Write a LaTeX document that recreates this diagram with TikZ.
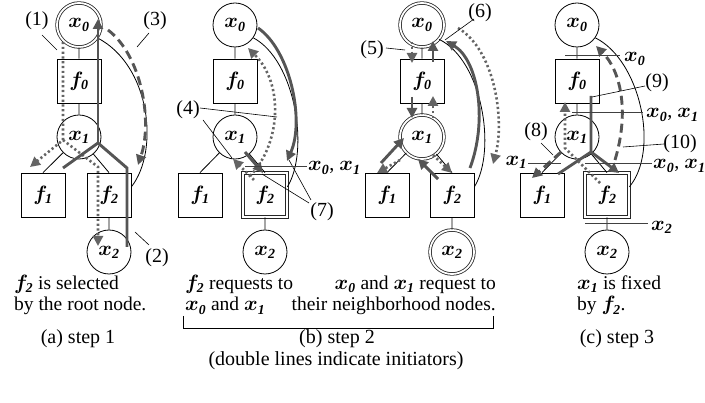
\documentclass[tikz,border=0pt]{standalone}
\usepackage{fontspec}
\setmainfont{Liberation Serif}
\usepackage{amsmath,bm}
\usetikzlibrary{arrows.meta,calc}
\definecolor{ag}{RGB}{85,85,85}
\definecolor{dg}{RGB}{100,100,100}
\newcommand{\vx}[1]{\ensuremath{\bm{x}_{\textbf{\textit{#1}}}}}
\newcommand{\vf}[1]{\ensuremath{\bm{f}_{\textbf{\textit{#1}}}}}
\begin{document}
\begin{tikzpicture}[x=1pt,y=-1pt,font=\fontsize{20}{21}\selectfont,
  var/.style={circle,draw,minimum size=44pt,inner sep=0pt,line width=0.8pt},
  fac/.style={rectangle,draw,minimum size=44pt,inner sep=0pt,line width=0.8pt},
  ini/.style={double=white,double distance=1.8pt,line width=0.8pt,draw=black!85},
  edge/.style={line width=0.8pt},
  tip/.style={-{Triangle[length=10pt,width=10pt]}},
  sol/.style={draw=ag,line width=2.9pt},
  dot/.style={draw=dg,line width=2.6pt,dash pattern=on 2.2pt off 2.6pt},
  dsh/.style={draw=ag,line width=2.9pt,dash pattern=on 9pt off 5pt},
  lead/.style={line width=0.6pt},
  cut/.style={line width=0.8pt,draw=black!75},
  txt/.style={inner sep=0pt},
  para/.style={inner sep=0pt,font=\fontsize{19.5}{21.5}\selectfont}]
\useasboundingbox (0,0) rectangle (705,403);
% ---------- panel (a)
\node[var,ini] (ax0) at (79,25) {\vx{0}};
\node[fac] (af0) at (79,81) {\vf{0}};
\node[var] (ax1) at (79,137) {\vx{1}};
\node[fac] (af1) at (43,195) {\vf{1}};
\node[fac] (af2) at (109,195) {\vf{2}};
\node[var] (ax2) at (109,252) {\vx{2}};
\draw[edge] (ax0) -- (af0) (af0) -- (ax1) (ax1) -- (af1.north) (ax1) -- (af2.north) (af2) -- (ax2);
\draw[edge] (ax0.-35) .. controls (150,65) and (160,150) .. (af2.20);
\draw[dot,tip] (63,42) -- (63,140) -- (30,167);
\draw[dot,tip] (63,140) -- (98,167) -- (98,246);
\draw[sol] (63,168) -- (98,143) -- (127,168) -- (127,247);
\draw[sol,tip] (98,143) -- (98,19);
\draw[dsh,tip] (108,30) .. controls (141,55) and (153,120) .. (138,165);
\node[txt] (al1) at (37,21) {(1)};
\draw[lead] (42,35) -- (57,50);
\node[txt] (al3) at (155,21) {(3)};
\draw[lead] (149,33) -- (137,47);
\node[txt] (al2) at (157,258) {(2)};
\draw[lead] (135,232) -- (149,245);
% ---------- panel (b)
\node[var] (bx0) at (235,25) {\vx{0}};
\node[fac] (bf0) at (235,81) {\vf{0}};
\node[var] (bx1) at (235,137) {\vx{1}};
\node[fac] (bf1) at (200,195) {\vf{1}};
\node[fac,ini] (bf2) at (265,195) {\vf{2}};
\node[var] (bx2) at (265,252) {\vx{2}};
\draw[edge] (bx0) -- (bf0) (bf0) -- (bx1) (bx1) -- (bf1.north) (bx1) -- (bf2.north) (bf2) -- (bx2);
\draw[edge] (bx0.-35) .. controls (295,60) and (310,150) .. (bf2.20);
\draw[sol,tip] (258,28) .. controls (290,50) and (305,120) .. (287,161);
\draw[dot,tip] (250,176) .. controls (280,145) and (285,85) .. (248,48);
\draw[dot,tip] (254,180) -- (233,159);
\draw[sol,tip] (245,152) -- (263,173);
\node[txt] (bl4) at (188,110) {(4)};
\draw[lead] (200,108) -- (277,117);
\draw[lead] (203,120) -- (232,158);
\node[txt] (bl7) at (322,212) {(7)};
\draw[lead] (309,203) -- (262,174);
\draw[lead] (311,200) -- (289,160);
\draw[cut] (245,166) -- (307,166);
\node[txt,anchor=west] (bc1) at (308,168) {\vx{0}, \vx{1}};
% ---------- panel (b) middle
\node[var,ini] (mx0) at (422,25) {\vx{0}};
\node[fac] (mf0) at (422,81) {\vf{0}};
\node[var,ini] (mx1) at (422,137) {\vx{1}};
\node[fac] (mf1) at (387,195) {\vf{1}};
\node[fac] (mf2) at (452,195) {\vf{2}};
\node[var,ini] (mx2) at (452,252) {\vx{2}};
\draw[edge] (mx0) -- (mf0) (mf0) -- (mx1) (mx1) -- (mf1.north) (mx1) -- (mf2.north) (mf2) -- (mx2);
\draw[edge] (mx0.-40) .. controls (482,60) and (497,150) .. (mf2.20);
\draw[dot,tip] (412,42) -- (412,63);
\draw[sol,tip] (433,62) -- (433,41);
\draw[sol,tip] (412,97) -- (412,118);
\draw[dot,tip] (433,118) -- (433,96);
\draw[sol,tip] (381,163) -- (404,138);
\draw[dot,tip] (400,160) -- (377,173);
\draw[sol,tip] (438,179) -- (418,159);
\draw[dot,tip] (433,155) -- (452,173);
\draw[sol,tip] (470,168) .. controls (488,120) and (478,60) .. (446,41);
\draw[dot,tip] (458,28) .. controls (495,50) and (505,120) .. (493,164);
\node[txt] (ml5) at (372,50) {(5)};
\draw[lead] (386,48) -- (405,50);
\node[txt] (ml6) at (480,13) {(6)};
\draw[lead] (474,19) -- (445,40);
% ---------- panel (c)
\node[var] (cx0) at (577,25) {\vx{0}};
\node[fac] (cf0) at (577,81) {\vf{0}};
\node[var] (cx1) at (577,137) {\vx{1}};
\node[fac] (cf1) at (542,195) {\vf{1}};
\node[fac,ini] (cf2) at (607,195) {\vf{2}};
\node[var] (cx2) at (607,252) {\vx{2}};
\draw[edge] (cx0) -- (cf0) (cf0) -- (cx1) (cx1) -- (cf1.north) (cx1) -- (cf2.north) (cf2) -- (cx2);
\draw[edge] (cx0.-35) .. controls (640,60) and (660,150) .. (cf2.20);
\draw[dsh,tip] (615,160) .. controls (630,110) and (620,70) .. (596,46);
\draw[sol] (558,174) -- (591,152) -- (591,96);
\draw[sol,tip] (591,152) -- (619,173);
\draw[dsh,tip] (561,152) -- (532,178);
\draw[dot,tip] (600,183) -- (565,148) -- (565,102);
\draw[cut] (565,55) -- (620,55);
\node[txt,anchor=west] (cc0) at (624,59) {\vx{0}};
\draw[cut] (572,112) -- (643,112);
\node[txt,anchor=west] (cc1) at (646,115) {\vx{0}, \vx{1}};
\draw[cut] (528,163) -- (561,163);
\node[txt,anchor=east] (cc2) at (527,162) {\vx{1}};
\draw[cut] (585,163) -- (652,163);
\node[txt,anchor=west] (cc3) at (653,166) {\vx{0}, \vx{1}};
\draw[cut] (585,223) -- (648,223);
\node[txt,anchor=west] (cc4) at (651,227) {\vx{2}};
\node[txt] (cl8) at (536,132) {(8)};
\draw[lead] (541,143) -- (553,155);
\node[txt] (cl9) at (657,83) {(9)};
\draw[lead] (645,86) -- (592,97);
\node[txt] (cl10) at (680,144) {(10)};
\draw[lead] (664,144) -- (623,147);
% ---------- texts
\node[para,align=left,anchor=base west] (ta) at (14,311) {\vf{2} is selected\\by the root node.};
\node[para,align=left,anchor=base west] (tb) at (185,311) {\vf{2} requests to\\\vx{0} and \vx{1}};
\node[para,align=right,anchor=base east] (tm) at (496,311) {\vx{0} and \vx{1} request to\\their neighborhood nodes.};
\node[para,align=left,anchor=base west] (tc) at (577,311) {\vx{1} is fixed\\by \vf{2}.};
\draw[line width=0.6pt] (183,316) -- (183,328) -- (493,328) -- (493,316);
\node[txt,anchor=base] (sa) at (78,344) {(a) step 1};
\node[txt,anchor=base] (sb) at (337,344) {(b) step 2};
\node[txt,anchor=base] (sc) at (617,344) {(c) step 3};
\node[txt,anchor=base] (sd) at (336,366) {(double lines indicate initiators)};
\end{tikzpicture}
\end{document}
